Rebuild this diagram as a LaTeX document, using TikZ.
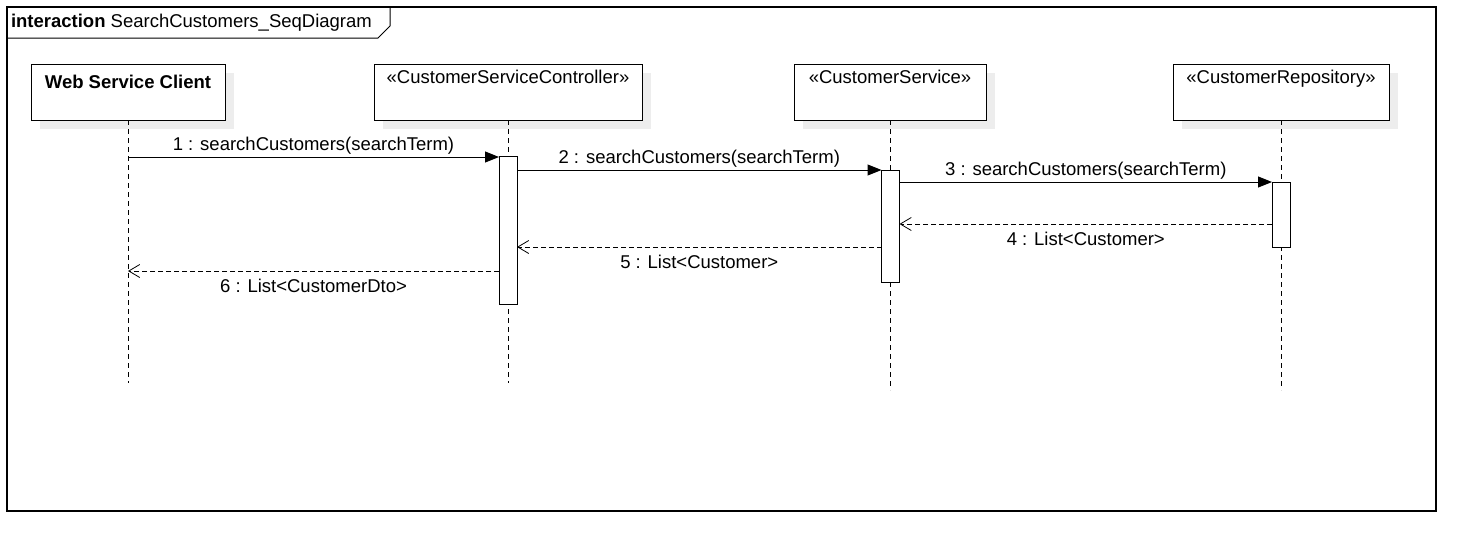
\documentclass[tikz,border=0pt]{standalone}
\usepackage{fontspec}
\setmainfont{Liberation Sans}
\usepackage{tikz}
\usetikzlibrary{arrows.meta,shadows}
\definecolor{shade}{gray}{0.93}
\tikzset{%
    >={Triangle[length=14pt,width=11pt]}, % filled heads for calls
    inner sep=0pt,%
    outer sep=0pt,%
    over/.style={anchor=base,yshift=7pt},%
    under/.style={anchor=base,yshift=-21pt},%
    headtext/.style={anchor=base,yshift=-19pt}%
    }
\tikzstyle{head} = [rectangle, draw, fill=white, line width=1pt,
  minimum height=56pt, general shadow={fill=shade, shadow xshift=9pt,
  shadow yshift=-9pt}]
\tikzstyle{bar} = [rectangle, draw, fill=white, line width=1pt, minimum width=18pt]
\tikzstyle{life} = [line width=0.8pt, dash pattern=on 5pt off 4pt]
\tikzstyle{call} = [->, line width=1pt]
\tikzstyle{reply} = [-{Straight Barb[length=11pt,width=13pt]}, line width=0.8pt,
  dash pattern=on 5pt off 3pt]

\begin{document}
\begin{tikzpicture}[x=1pt,y=-1pt,font=\fontsize{18.5}{22}\selectfont]
    \useasboundingbox (0,0) rectangle (1469,536);
    % frame
    \draw[line width=1.2pt] (7,7) rectangle (1436,511);
    \draw[line width=1pt] (7,38) -- (378,38) -- (390,26) -- (390,7);
    \node[anchor=base west] (title) at (11,27)
        {\textbf{interaction} SearchCustomers\_SeqDiagram};

    % lifelines
    \node[head,minimum width=194pt,
        label={[headtext,yshift=-5pt]north:\textbf{Web Service Client}}] (client) at (128,92) {};
    \node[head,minimum width=268pt,
        label={[headtext]north:«CustomerServiceController»}] (ctrl) at (508,92) {};
    \node[head,minimum width=192pt,
        label={[headtext]north:«CustomerService»}] (svc) at (890,92) {};
    \node[head,minimum width=216pt,
        label={[headtext]north:«CustomerRepository»}] (repo) at (1281,92) {};

    \coordinate (clientend) at (128,383);
    \coordinate (ctrlend) at (508,383);
    \coordinate (svcend) at (890,390);
    \coordinate (repoend) at (1281,390);
    \draw[life] (client) -- (clientend);
    \draw[life] (ctrl) -- (ctrlend);
    \draw[life] (svc) -- (svcend);
    \draw[life] (repo) -- (repoend);

    \node[bar,minimum height=148pt] (ctrlbar) at (508,230) {};
    \node[bar,minimum height=112pt] (svcbar) at (890.5,226) {};
    \node[bar,minimum height=65pt] (repobar) at (1281,214.5) {};

    % messages
    \draw[call] (client.south |- 0,157) -- node[over]{1 : searchCustomers(searchTerm)}
        (ctrlbar.west |- 0,157);
    \draw[call] (ctrlbar.east |- 0,170) -- node[over]{2 : searchCustomers(searchTerm)}
        (svcbar.west |- 0,170);
    \draw[call] (svcbar.east |- 0,182) -- node[over]{3 : searchCustomers(searchTerm)}
        (repobar.west |- 0,182);
    \draw[reply] (repobar.west |- 0,224) -- node[under]{4 : List<Customer>}
        (svcbar.east |- 0,224);
    \draw[reply] (svcbar.west |- 0,247) -- node[under]{5 : List<Customer>}
        (ctrlbar.east |- 0,247);
    \draw[reply] (ctrlbar.west |- 0,271) -- node[under]{6 : List<CustomerDto>}
        (client.south |- 0,271);
\end{tikzpicture}
\end{document}
